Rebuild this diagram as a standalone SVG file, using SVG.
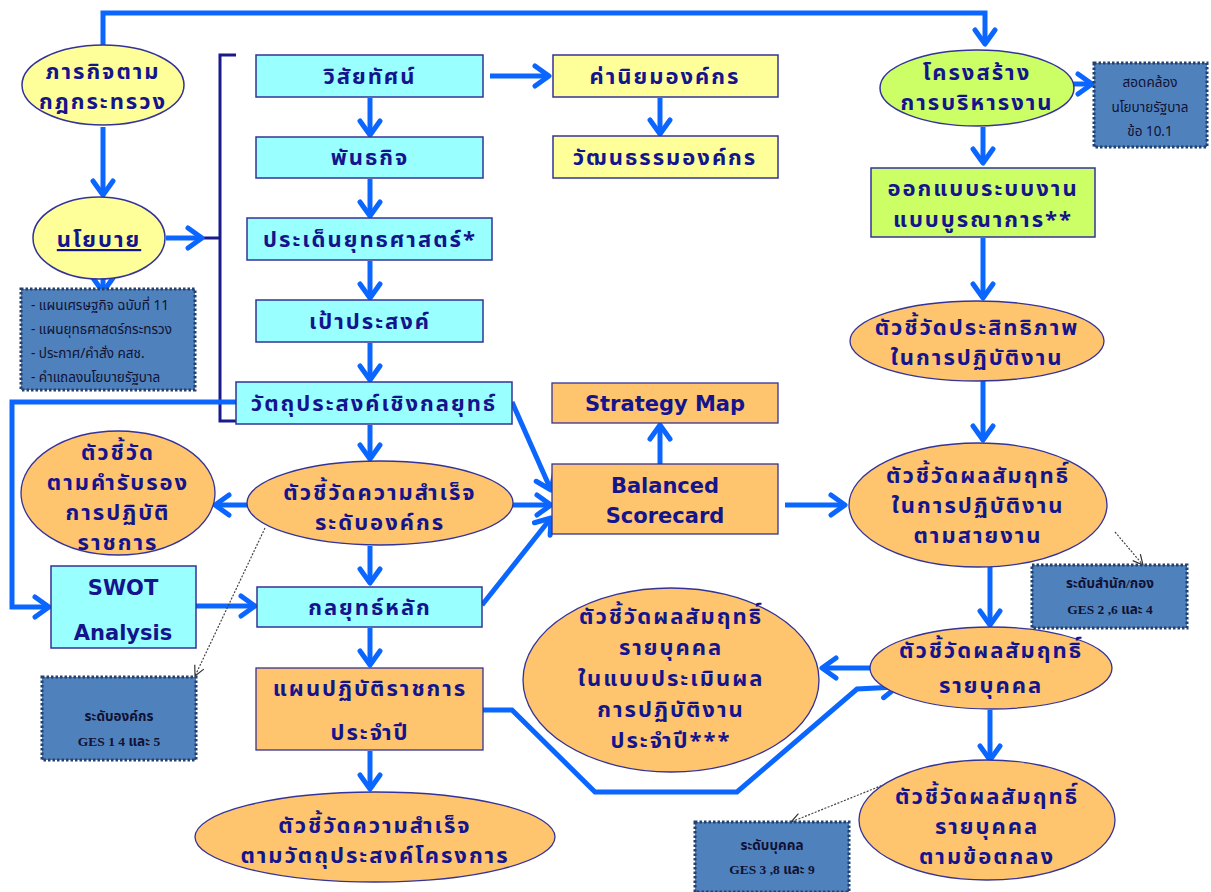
<svg xmlns="http://www.w3.org/2000/svg" width="1211" height="892" viewBox="0 0 1211 892">
  <defs>
    <marker id="arrow" viewBox="0 0 20 26" refX="17" refY="13" markerWidth="20" markerHeight="26" markerUnits="userSpaceOnUse" orient="auto">
      <path d="M3,3 L17,13 L3,23" fill="none" stroke="#0A66FF" stroke-width="5" stroke-linecap="round" stroke-linejoin="round"/>
    </marker>
    <marker id="thin" viewBox="0 0 12 12" refX="11" refY="6" markerWidth="12" markerHeight="12" markerUnits="userSpaceOnUse" orient="auto">
      <path d="M1,1 L11,6 L1,11" fill="none" stroke="#333" stroke-width="1.2"/>
    </marker>
    <style>
      .bg { fill: #ffffff; }
      .cyan { fill: #99FFFF; stroke: #333399; stroke-width: 1.5; }
      .yel { fill: #FFFF99; stroke: #333399; stroke-width: 1.5; }
      .org { fill: #FFC46E; stroke: #333399; stroke-width: 1.3; }
      .lime { fill: #CCFF66; stroke: #333399; stroke-width: 1.5; }
      .note { fill: #4F81BD; stroke: #23406E; stroke-width: 3; stroke-dasharray: 2.5 2; }
      .t { font-family: "Tahoma", "Noto Sans Thai", "DejaVu Sans", sans-serif; font-weight: bold; font-size: 22px; letter-spacing: 2px; fill: #14148C; text-anchor: middle; }
      .en { font-family: "DejaVu Sans", "Liberation Sans", sans-serif; font-weight: bold; font-size: 21px; fill: #14148C; text-anchor: middle; }
      .n { font-family: "Tahoma", "Noto Sans Thai", "DejaVu Sans", sans-serif; font-size: 13.5px; fill: #111133; }
      .nb { font-family: "Liberation Serif", "Noto Sans Thai", serif; font-weight: bold; font-size: 13.5px; fill: #111133; text-anchor: middle; }
      .c { fill: none; stroke: #0A66FF; stroke-width: 5; stroke-linejoin: miter; }
      .ca { marker-end: url(#arrow); }
      .d { fill: none; stroke: #444; stroke-width: 1.2; stroke-dasharray: 2 1.5; marker-end: url(#thin); }
      .br { fill: none; stroke: #1A1A8C; stroke-width: 3; }
    </style>
  </defs>

  <rect class="bg" x="0" y="0" width="1211" height="892"/>

  <!-- connectors -->
  <g id="connectors">
    <!-- bracket grouping the strategy chain -->
    <path class="br" d="M236,55 L220,55 L220,421 L236,421"/>
    <path class="br" d="M204,238 L220,238"/>
    <path class="c ca" d="M103,45 L103,13 L985,13 L985,44"/>
    <path class="c ca" d="M103,127 L103,195"/>
    <path class="c ca" d="M103,278 L103,292"/>
    <path class="c ca" d="M166,238 L202,238"/>
    <path class="c ca" d="M370,98 L370,135"/>
    <path class="c ca" d="M370,179 L370,216"/>
    <path class="c ca" d="M370,261 L370,298"/>
    <path class="c ca" d="M370,343 L370,380"/>
    <path class="c ca" d="M490,76 L549,76"/>
    <path class="c ca" d="M660,98 L660,134"/>
    <path class="c ca" d="M370,425 L370,459"/>
    <path class="c ca" d="M236,402 L12,402 L12,607 L49,607"/>
    <path class="c ca" d="M251,505 L215,505"/>
    <path class="c ca" d="M196,606 L255,606"/>
    <path class="c ca" d="M370,546 L370,583"/>
    <path class="c ca" d="M370,628 L370,665"/>
    <path class="c ca" d="M370,751 L370,789"/>
    <path class="c ca" d="M660,464 L660,425"/>
    <path class="c ca" d="M512,402 L551,490"/>
    <path class="c ca" d="M513,505 L551,505"/>
    <path class="c ca" d="M482,605 L551,518"/>
    <path class="c ca" d="M785,505 L845,505"/>
    <path class="c ca" d="M1073,84 L1092,84"/>
    <path class="c ca" d="M983,127 L983,163"/>
    <path class="c ca" d="M983,238 L983,298"/>
    <path class="c ca" d="M983,381 L983,440"/>
    <path class="c ca" d="M990,567 L990,625"/>
    <path class="c ca" d="M870,668 L822,668"/>
    <path class="c ca" d="M990,710 L990,760"/>
    <path class="c ca" d="M483,710 L512,710 L595,792 L737,792 L857,689 L897,687"/>
    <path class="d" d="M265,528 L195,676"/>
    <path class="d" d="M1115,532 L1143,565"/>
    <path class="d" d="M888,783 L791,822"/>
  </g>

  <!-- left column -->
  <g id="node-mission-law">
    <ellipse class="yel" cx="103" cy="85" rx="81" ry="40"/>
    <text class="t"><tspan x="103" y="79">ภารกิจตาม</tspan><tspan x="103" y="109">กฎกระทรวง</tspan></text>
  </g>
  <g id="node-policy">
    <ellipse class="yel" cx="99" cy="238" rx="66" ry="41"/>
    <text class="t" x="99" y="247" text-decoration="underline">นโยบาย</text>
  </g>
  <g id="note-policy">
    <rect class="note" x="21" y="289" width="174" height="101"/>
    <text class="n"><tspan x="31" y="310">- แผนเศรษฐกิจ ฉบับที่ 11</tspan><tspan x="31" y="334">- แผนยุทธศาสตร์กระทรวง</tspan><tspan x="31" y="358">- ประกาศ/คำสั่ง คสช.</tspan><tspan x="31" y="382">- คำแถลงนโยบายรัฐบาล</tspan></text>
  </g>
  <g id="node-kpi-agreement">
    <ellipse class="org" cx="118" cy="493" rx="97" ry="62"/>
    <text class="t"><tspan x="118" y="460">ตัวชี้วัด</tspan><tspan x="118" y="490">ตามคำรับรอง</tspan><tspan x="118" y="520">การปฏิบัติ</tspan><tspan x="118" y="550">ราชการ</tspan></text>
  </g>
  <g id="node-swot">
    <rect class="cyan" x="51" y="566" width="145" height="82"/>
    <text class="en"><tspan x="123" y="595">SWOT</tspan><tspan x="123" y="640">Analysis</tspan></text>
  </g>
  <g id="note-org">
    <rect class="note" x="42" y="677" width="154" height="83"/>
    <text class="nb"><tspan x="119" y="721">ระดับองค์กร</tspan><tspan x="119" y="746">GES 1 4 และ 5</tspan></text>
  </g>

  <!-- centre column -->
  <g id="node-vision">
    <rect class="cyan" x="256" y="55" width="227" height="42"/>
    <text class="t" x="370" y="84">วิสัยทัศน์</text>
  </g>
  <g id="node-mission">
    <rect class="cyan" x="256" y="137" width="227" height="41"/>
    <text class="t" x="370" y="165">พันธกิจ</text>
  </g>
  <g id="node-issues">
    <rect class="cyan" x="247" y="218" width="245" height="42"/>
    <text class="t" x="370" y="247">ประเด็นยุทธศาสตร์*</text>
  </g>
  <g id="node-goal">
    <rect class="cyan" x="256" y="300" width="227" height="42"/>
    <text class="t" x="370" y="329">เป้าประสงค์</text>
  </g>
  <g id="node-objective">
    <rect class="cyan" x="236" y="382" width="276" height="42"/>
    <text class="t" x="374" y="411">วัตถุประสงค์เชิงกลยุทธ์</text>
  </g>
  <g id="node-kpi-org">
    <ellipse class="org" cx="380" cy="503" rx="133" ry="42"/>
    <text class="t"><tspan x="380" y="500">ตัวชี้วัดความสำเร็จ</tspan><tspan x="380" y="530">ระดับองค์กร</tspan></text>
  </g>
  <g id="node-core-strategy">
    <rect class="cyan" x="257" y="587" width="225" height="40"/>
    <text class="t" x="370" y="615">กลยุทธ์หลัก</text>
  </g>
  <g id="node-action-plan">
    <rect class="org" x="256" y="668" width="227" height="82"/>
    <text class="t"><tspan x="370" y="696">แผนปฏิบัติราชการ</tspan><tspan x="370" y="740">ประจำปี</tspan></text>
  </g>
  <g id="node-kpi-project">
    <ellipse class="org" cx="375" cy="837" rx="180" ry="45"/>
    <text class="t"><tspan x="375" y="833">ตัวชี้วัดความสำเร็จ</tspan><tspan x="375" y="863">ตามวัตถุประสงค์โครงการ</tspan></text>
  </g>

  <!-- values, culture and scorecard -->
  <g id="node-values">
    <rect class="yel" x="553" y="55" width="225" height="42"/>
    <text class="t" x="665" y="84">ค่านิยมองค์กร</text>
  </g>
  <g id="node-culture">
    <rect class="yel" x="553" y="136" width="225" height="42"/>
    <text class="t" x="665" y="165">วัฒนธรรมองค์กร</text>
  </g>
  <g id="node-strategy-map">
    <rect class="org" x="552" y="383" width="226" height="40"/>
    <text class="en" x="665" y="411">Strategy Map</text>
  </g>
  <g id="node-bsc">
    <rect class="org" x="552" y="464" width="226" height="70"/>
    <text class="en"><tspan x="665" y="493">Balanced</tspan><tspan x="665" y="523">Scorecard</tspan></text>
  </g>
  <g id="node-kpi-individual-annual">
    <ellipse class="org" cx="671" cy="680" rx="148" ry="92"/>
    <text class="t"><tspan x="671" y="624">ตัวชี้วัดผลสัมฤทธิ์</tspan><tspan x="671" y="655">รายบุคคล</tspan><tspan x="671" y="686">ในแบบประเมินผล</tspan><tspan x="671" y="717">การปฏิบัติงาน</tspan><tspan x="671" y="748">ประจำปี***</tspan></text>
  </g>
  <g id="note-person">
    <rect class="note" x="695" y="822" width="154" height="70"/>
    <text class="nb"><tspan x="772" y="850">ระดับบุคคล</tspan><tspan x="772" y="874">GES 3 ,8 และ 9</tspan></text>
  </g>

  <!-- right column -->
  <g id="node-structure">
    <ellipse class="lime" cx="977" cy="88" rx="97" ry="38"/>
    <text class="t"><tspan x="977" y="80">โครงสร้าง</tspan><tspan x="977" y="110">การบริหารงาน</tspan></text>
  </g>
  <g id="note-gov">
    <rect class="note" x="1094" y="63" width="113" height="84"/>
    <text class="n" text-anchor="middle"><tspan x="1150" y="87">สอดคล้อง</tspan><tspan x="1150" y="112">นโยบายรัฐบาล</tspan><tspan x="1150" y="136">ข้อ 10.1</tspan></text>
  </g>
  <g id="node-integrated">
    <rect class="lime" x="871" y="168" width="224" height="69"/>
    <text class="t"><tspan x="983" y="196">ออกแบบระบบงาน</tspan><tspan x="983" y="227">แบบบูรณาการ**</tspan></text>
  </g>
  <g id="node-kpi-efficiency">
    <ellipse class="org" cx="977" cy="341" rx="127" ry="40"/>
    <text class="t"><tspan x="977" y="335">ตัวชี้วัดประสิทธิภาพ</tspan><tspan x="977" y="365">ในการปฏิบัติงาน</tspan></text>
  </g>
  <g id="node-kpi-line">
    <ellipse class="org" cx="978" cy="505" rx="129" ry="62"/>
    <text class="t"><tspan x="978" y="483">ตัวชี้วัดผลสัมฤทธิ์</tspan><tspan x="978" y="513">ในการปฏิบัติงาน</tspan><tspan x="978" y="543">ตามสายงาน</tspan></text>
  </g>
  <g id="note-division">
    <rect class="note" x="1032" y="565" width="155" height="63"/>
    <text class="nb"><tspan x="1110" y="588">ระดับสำนัก/กอง</tspan><tspan x="1110" y="614">GES 2 ,6 และ 4</tspan></text>
  </g>
  <g id="node-kpi-individual">
    <ellipse class="org" cx="991" cy="668" rx="121" ry="41"/>
    <text class="t"><tspan x="991" y="658">ตัวชี้วัดผลสัมฤทธิ์</tspan><tspan x="991" y="693">รายบุคคล</tspan></text>
  </g>
  <g id="node-kpi-individual-agreement">
    <ellipse class="org" cx="987" cy="820" rx="128" ry="60"/>
    <text class="t"><tspan x="987" y="804">ตัวชี้วัดผลสัมฤทธิ์</tspan><tspan x="987" y="834">รายบุคคล</tspan><tspan x="987" y="864">ตามข้อตกลง</tspan></text>
  </g>
</svg>
